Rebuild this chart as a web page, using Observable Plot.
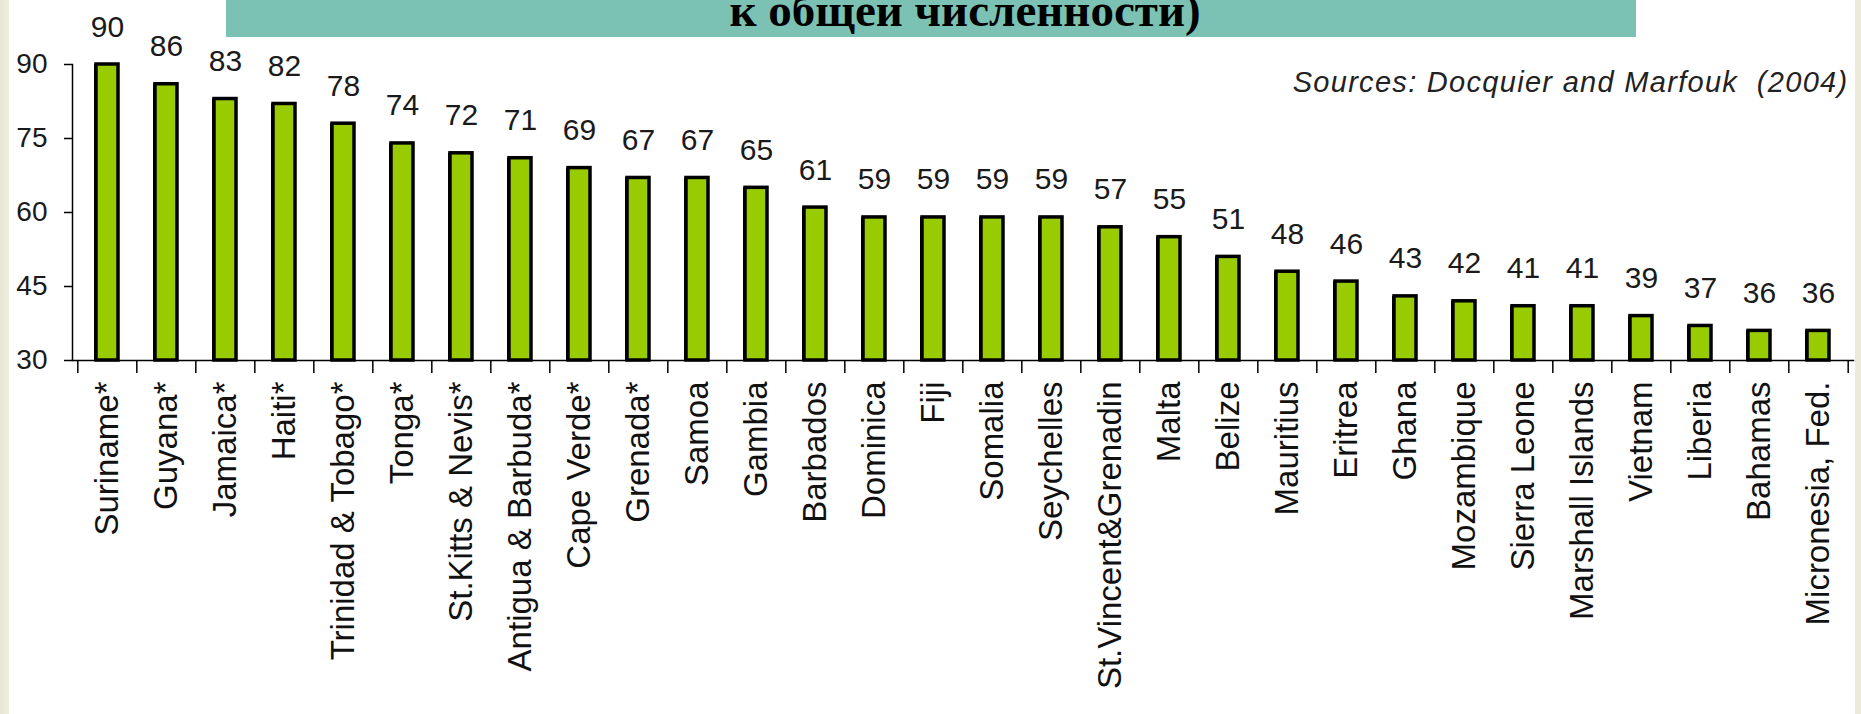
<!DOCTYPE html>
<html>
<head>
<meta charset="utf-8">
<script src="https://cdn.jsdelivr.net/npm/d3@7"></script>
<script src="https://cdn.jsdelivr.net/npm/@observablehq/plot@0.6"></script>
<style>
  html, body { margin: 0; padding: 0; background: #ffffff; }
  body { width: 1861px; height: 714px; overflow: hidden; position: relative; }
  #edgeL { position: absolute; left: 0; top: 0; width: 9px; height: 714px; background: linear-gradient(to right, #e6e5d3, #efeee2); }
  #edgeR { position: absolute; right: 0; top: 0; width: 6px; height: 714px; background: #ebeadb; }
  #chart { position: absolute; left: 0; top: 0; }
  #banner { position: absolute; left: 226px; top: 0; width: 1410px; height: 37px; background: #7cc2b4; overflow: hidden; }
  #banner span { position: absolute; left: 0; right: 0; top: -18px; text-align: center; padding-left: 68px;
    font: bold 47px "Liberation Serif", "Times New Roman", serif; line-height: 56px; color: #000; white-space: nowrap; }
</style>
</head>
<body>
<div id="edgeL"></div>
<div id="edgeR"></div>
<div id="chart"></div>
<div id="banner"><span id="bannerText"></span></div>
<script>
const categories = ["Suriname*", "Guyana*", "Jamaica*", "Haiti*", "Trinidad & Tobago*", "Tonga*", "St.Kitts & Nevis*", "Antigua & Barbuda*", "Cape Verde*", "Grenada*", "Samoa", "Gambia", "Barbados", "Dominica", "Fiji", "Somalia", "Seychelles", "St.Vincent&Grenadin", "Malta", "Belize", "Mauritius", "Eritrea", "Ghana", "Mozambique", "Sierra Leone", "Marshall Islands", "Vietnam", "Liberia", "Bahamas", "Micronesia, Fed."];
const values = [90, 86, 83, 82, 78, 74, 72, 71, 69, 67, 67, 65, 61, 59, 59, 59, 59, 57, 55, 51, 48, 46, 43, 42, 41, 41, 39, 37, 36, 36];
const yTicks = [30, 45, 60, 75, 90];
const yMin = 30, yMax = 90;
const sourceText = "Sources: Docquier and Marfouk  (2004)";
const titleLine = "к общей численности)";

document.getElementById("bannerText").textContent = titleLine;

const data = categories.map((c, i) => ({country: c, value: values[i]}));

const W = 1861, H = 714, mL = 72, mR = 8, mT = 64, mB = 354;
const step = (W - mL - mR) / categories.length;

const plot = Plot.plot({
  width: W, height: H,
  marginLeft: mL, marginRight: mR, marginTop: mT, marginBottom: mB,
  x: {type: "band", domain: categories, paddingInner: 0.62, paddingOuter: 0.31, axis: null},
  y: {domain: [yMin, yMax], axis: null},
  style: {fontFamily: "'Liberation Sans', Arial, sans-serif", background: "transparent", overflow: "visible", color: "#000"},
  marks: [
    Plot.barY(data, {x: "country", y1: yMin, y2: "value", fill: "#000", dx: -2}),
    Plot.barY(data, {x: "country", y1: yMin, y2: "value", fill: "#99cc00", stroke: "#000", strokeWidth: 3.5}),
    Plot.frame({anchor: "left", stroke: "#000", strokeWidth: 1.5}),
    Plot.frame({anchor: "bottom", stroke: "#000", strokeWidth: 1.5}),
    Plot.axisY({ticks: yTicks, label: null, tickSize: 8, tickPadding: 17, fontSize: 28, stroke: "#000", strokeWidth: 1.5, fill: "#1a1a1a"}),
    Plot.ruleX(categories, {x: d => d, y1: yMin, y2: yMin, insetBottom: -13, dx: -step / 2, stroke: "#000", strokeWidth: 1.5}),
    Plot.ruleX(categories.slice(-1), {x: d => d, y1: yMin, y2: yMin, insetBottom: -13, dx: step / 2, stroke: "#000", strokeWidth: 1.5}),
    Plot.text(data, {x: "country", y: "value", text: d => String(d.value), dy: -28, lineAnchor: "bottom", fontSize: 30, fill: "#1a1a1a"}),
    Plot.text(data, {x: "country", y: yMin, text: "country", rotate: -90, textAnchor: "end", dy: 21, fontSize: 33, fill: "#111"}),
    Plot.text([sourceText], {frameAnchor: "top-right", text: d => d, dx: -5, dy: 27, lineAnchor: "bottom", textAnchor: "end", fontSize: 29, fontStyle: "italic", fill: "#222"})
  ]
});
plot.querySelectorAll("text").forEach(t => {
  if (t.textContent === sourceText) { t.style.whiteSpace = "pre"; t.style.letterSpacing = "1.3px"; }
});
document.getElementById("chart").appendChild(plot);
</script>
</body>
</html>
